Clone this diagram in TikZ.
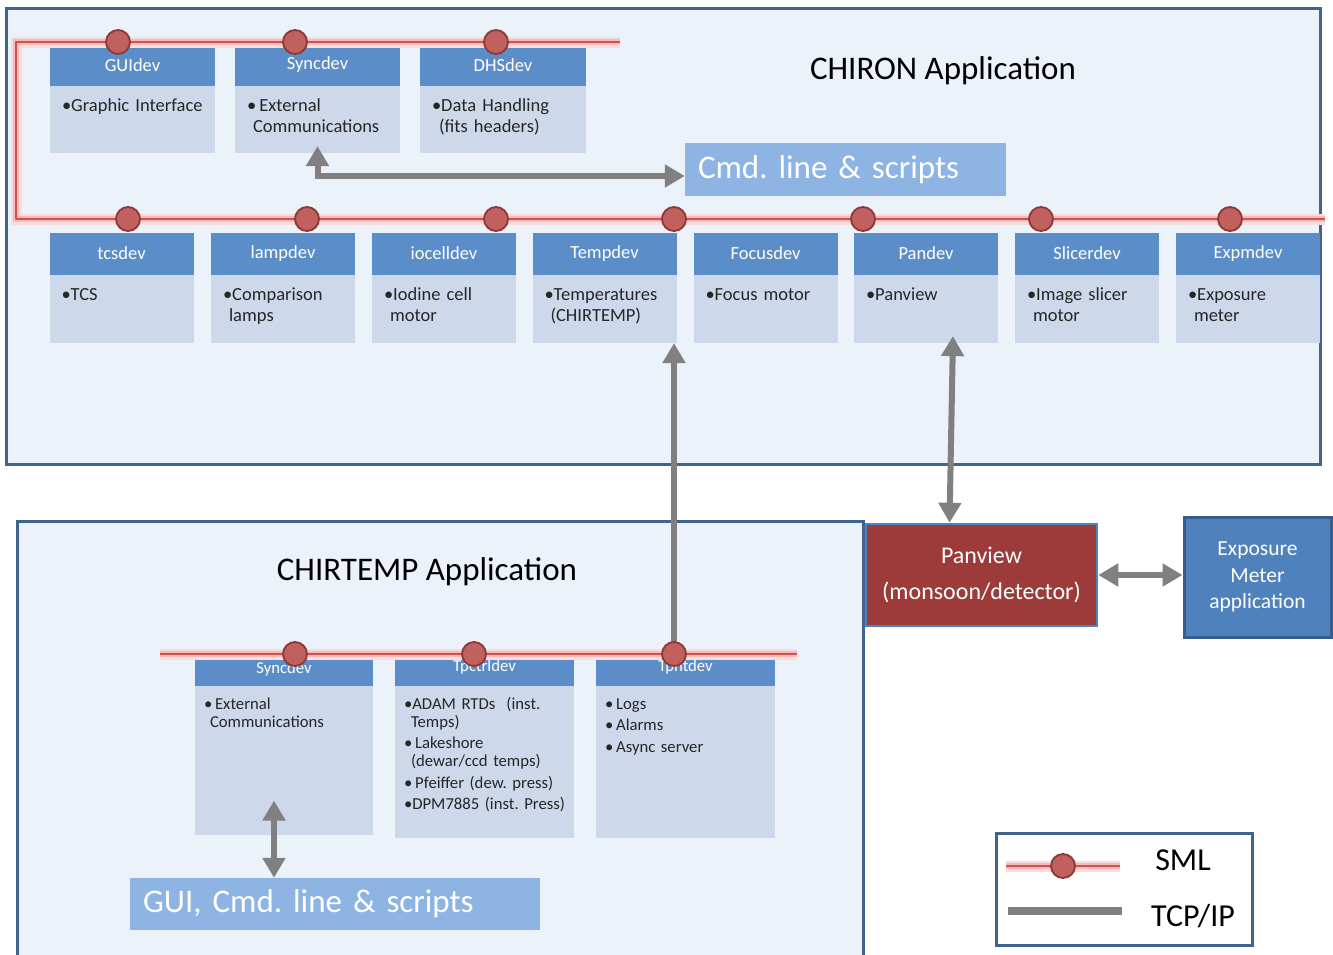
\documentclass[tikz,border=0pt]{standalone}
\usepackage{fontspec}
\setmainfont{Carlito}
\usepackage{xcolor}
\definecolor{frameblue}{RGB}{65,100,143}
\definecolor{paleblue}{RGB}{235,242,250}
\definecolor{headblue}{RGB}{91,142,200}
\definecolor{bodyblue}{RGB}{205,216,234}
\definecolor{cmdblue}{RGB}{142,180,227}
\definecolor{smlred}{RGB}{204,82,80}
\definecolor{smlglow}{RGB}{240,170,170}
\definecolor{dotred}{RGB}{192,96,95}
\definecolor{dotedge}{RGB}{140,56,54}
\definecolor{tcpgray}{RGB}{128,128,128}
\definecolor{panred}{RGB}{156,59,58}
\definecolor{expblue}{RGB}{79,129,189}
\definecolor{expedge}{RGB}{56,93,138}
\usetikzlibrary{arrows.meta,positioning}
\tikzset{
    appbox/.style={draw=frameblue, line width=3pt, fill=paleblue},
    apptitle/.style={inner sep=0pt, font=\fontsize{33}{38}\selectfont},
    devhead/.style={fill=headblue, text=white, inner sep=0pt, minimum height=41pt, font=\fontsize{18.5}{21}\selectfont},
    devbody/.style={fill=bodyblue, text=black!85, inner xsep=12pt, inner ysep=0pt, align=left, text height=26pt, font=\fontsize{18.5}{20.5}\selectfont},
    lowhead/.style={fill=headblue, text=white, inner sep=0pt, font=\fontsize{16.7}{19}\selectfont},
    lowbody/.style={fill=bodyblue, text=black!85, inner xsep=9pt, inner ysep=0pt, align=left, text height=23pt, font=\fontsize{16.7}{18}\selectfont},
    scriptbox/.style={fill=cmdblue, text=white, inner xsep=13pt, align=left, font=\fontsize{33}{38}\selectfont},
    panbox/.style={fill=panred, draw=expblue, line width=2.5pt, text=white, align=center, font=\fontsize{24}{36}\selectfont},
    expbox/.style={fill=expblue, draw=expedge, line width=3pt, text=white, align=center, font=\fontsize{21.5}{26.5}\selectfont},
    legendbox/.style={draw=frameblue, line width=3pt, fill=white},
    legendtext/.style={inner sep=0pt, font=\fontsize{32}{36}\selectfont},
    smlline/.style={draw=smlred, line width=2.5pt, line join=round,
        preaction={draw=smlglow!40, line width=11pt},
        preaction={draw=smlglow!80, line width=6pt}},
    smldot/.style={circle, fill=dotred, draw=dotedge, line width=1.8pt, minimum size=24pt, inner sep=0pt},
    tcp/.style={draw=tcpgray, line width=6pt}
}

\begin{document}
\frenchspacing
\begin{tikzpicture}[x=1pt,y=-1pt,>={Triangle[width=22pt,length=20pt]}]
\useasboundingbox (0,0) rectangle (1333,954);

% the two applications
\draw[appbox] (6,8) rectangle (1320,464);
\draw[appbox] (17,521) rectangle (863,975);
\node[apptitle] (chiron) at (943,71) {CHIRON Application};
\node[apptitle] (chirtemp) at (427,572) {CHIRTEMP Application};

\node[scriptbox, text width=295pt, minimum height=53pt] (cmd) at (845.5,169.5) {Cmd. line \& scripts};
\node[scriptbox, text width=384pt, minimum height=52pt] (gui) at (335,904) {GUI, Cmd. line \& scripts};

% CHIRON devices, upper row
\node[devhead, minimum width=165pt] (guidev) at (132.5,65) {GUIdev};
\node[devbody, below=0pt of guidev, text width=141pt, text depth=41pt] (guib) {•Graphic Interface};
\node[devhead, minimum width=165pt] (syncdev) at (317.5,65) {Syncdev};
\node[devbody, below=0pt of syncdev, text width=141pt, text depth=41pt] (syncb) {•\,External\\\hspace*{6pt}Communications};
\node[devhead, minimum width=166pt] (dhsdev) at (503,65) {DHSdev};
\node[devbody, below=0pt of dhsdev, text width=142pt, text depth=41pt] (dhsb) {•Data Handling\\\hspace*{7pt}(fits headers)};

% CHIRON devices, lower row
\node[devhead, minimum width=144pt, minimum height=42pt] (tcsdev) at (121.5,253.5) {tcsdev};
\node[devbody, below=0pt of tcsdev, text width=120pt, text depth=42pt] (tcsb) {•TCS};
\node[devhead, minimum width=144pt, minimum height=42pt] (lampdev) at (283,253.5) {lampdev};
\node[devbody, below=0pt of lampdev, text width=120pt, text depth=42pt] (lampb) {•Comparison\\\hspace*{6pt}lamps};
\node[devhead, minimum width=144pt, minimum height=42pt] (iodev) at (444,253.5) {iocelldev};
\node[devbody, below=0pt of iodev, text width=120pt, text depth=42pt] (iob) {•Iodine cell\\\hspace*{6pt}motor};
\node[devhead, minimum width=144pt, minimum height=42pt] (tempdev) at (604.5,253.5) {Tempdev};
\node[devbody, below=0pt of tempdev, text width=120pt, text depth=42pt] (tempb) {•Temperatures\\\hspace*{6pt}(CHIRTEMP)};
\node[devhead, minimum width=144pt, minimum height=42pt] (focusdev) at (765.5,253.5) {Focusdev};
\node[devbody, below=0pt of focusdev, text width=120pt, text depth=42pt] (focusb) {•Focus motor};
\node[devhead, minimum width=144pt, minimum height=42pt] (pandev) at (926,253.5) {Pandev};
\node[devbody, below=0pt of pandev, text width=120pt, text depth=42pt] (panb) {•Panview};
\node[devhead, minimum width=144pt, minimum height=42pt] (slicerdev) at (1087,253.5) {Slicerdev};
\node[devbody, below=0pt of slicerdev, text width=120pt, text depth=42pt] (slicerb) {•Image slicer\\\hspace*{6pt}motor};
\node[devhead, minimum width=144pt, minimum height=42pt] (expmdev) at (1248,253.5) {Expmdev};
\node[devbody, below=0pt of expmdev, text width=120pt, text depth=42pt] (expmb) {•Exposure\\\hspace*{6pt}meter};

% CHIRTEMP devices
\node[lowhead, minimum width=178pt, minimum height=33pt] (lsyncdev) at (284,669.5) {Syncdev};
\node[lowbody, below=0pt of lsyncdev, text width=160pt, text depth=126pt] (lsyncb) {•\,External\\\hspace*{6pt}Communications};
\node[lowhead, minimum width=179pt, minimum height=37pt] (tpctrldev) at (484.5,667.5) {Tpctrldev};
\node[lowbody, below=0pt of tpctrldev, text width=161pt, text depth=129pt] (tpctrlb) {•ADAM RTDs~~(inst.\\\hspace*{7pt}Temps)\\[3.5pt]•\,Lakeshore\\\hspace*{7pt}(dewar/ccd temps)\\[3.5pt]•\,Pfeiffer (dew.~press)\\[3.5pt]•DPM7885 (inst.~Press)};
\node[lowhead, minimum width=179pt, minimum height=37pt] (tpntdev) at (685.5,667.5) {Tpntdev};
\node[lowbody, below=0pt of tpntdev, text width=161pt, text depth=129pt] (tpntb) {•\,Logs\\[3.5pt]•\,Alarms\\[3.5pt]•\,Async server};

% outside applications
\node[panbox, minimum width=231pt, minimum height=102pt] (panview) at (981.5,575) {Panview\\(monsoon/detector)};
\node[expbox, minimum width=147pt, minimum height=120pt] (expo) at (1257.5,577) {Exposure\\Meter\\application};

% TCP/IP links
\coordinate (tpntport) at ([xshift=-11.5pt]tpntdev.north);
\draw[tcp,<->] ([yshift=-6.5pt]cmd.west) -| ([yshift=7pt]syncb.south);
\draw[tcp,->] (tpntport) -- (tpntport |- tempb.south);
\draw[tcp,<->] ([xshift=27pt,yshift=7pt]panb.south) -- ([xshift=-32pt]panview.north);
\draw[tcp,<->] (panview.east) -- (panview.east -| expo.west);
\draw[tcp,<->] ([xshift=-61pt]gui.north) -- ([xshift=-10pt,yshift=35pt]lsyncb.south);

% SML buses
\draw[smlline] (620,42) -- (16,42) -- (16,219) -- (1325,219);
\draw[smlline] (160,654) -- (797,654);

\node[smldot] (guidot) at (118,42) {};
\node[smldot] (syncdot) at (295,42) {};
\node[smldot] (dhsdot) at (496,42) {};

\node[smldot] (tcsdot) at (128,219) {};
\node[smldot] (lampdot) at (307,219) {};
\node[smldot] (iodot) at (496,219) {};
\node[smldot] (tempdot) at (674,219) {};
\node[smldot] (pandot) at (863,219) {};
\node[smldot] (slicerdot) at (1041,219) {};
\node[smldot] (expmdot) at (1230,219) {};

\node[smldot] (lsyncdot) at (295,654) {};
\node[smldot] (tpctrldot) at (474,654) {};
\node[smldot] (tpntdot) at (674,654) {};

% legend
\node[legendbox, minimum width=256pt, minimum height=112pt] (legend) at (1124,889) {};
\draw[smlline] (1006,866) -- (1120,866);
\node[smldot] (legdot) at (1063,866) {};
\node[legendtext] (smltxt) at (1183,860) {SML};
\draw[tcp, line width=8pt] (1008,911) -- (1122,911);
\node[legendtext] (tcptxt) at (1193,916) {TCP/IP};
\end{tikzpicture}
\end{document}
